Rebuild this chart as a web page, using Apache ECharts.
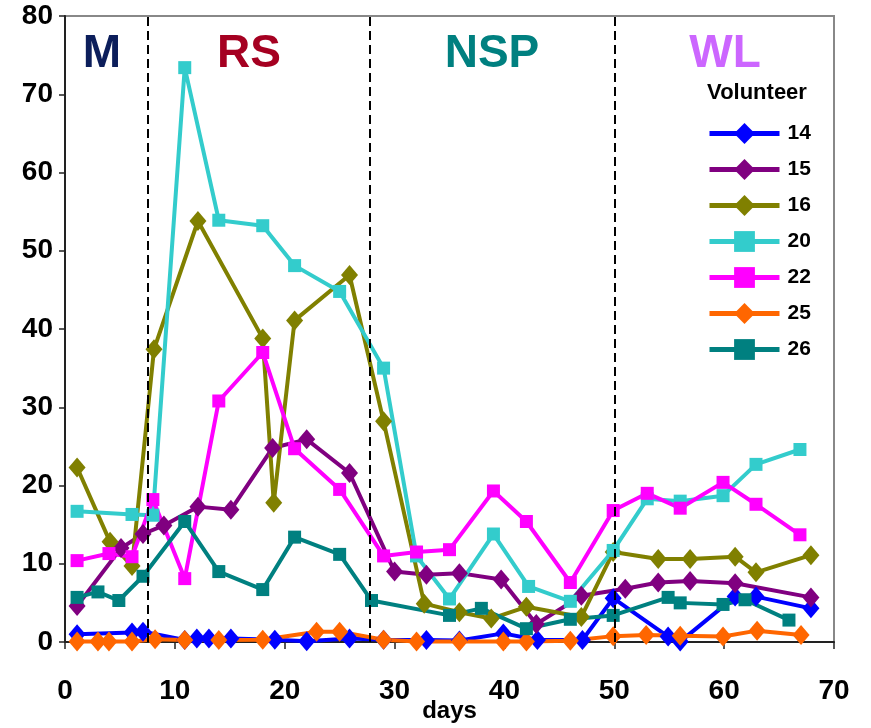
<!DOCTYPE html>
<html>
<head>
<meta charset="utf-8">
<script src="https://cdn.jsdelivr.net/npm/echarts@6/dist/echarts.min.js"></script>
<style>
  html, body { margin: 0; padding: 0; background: #fff; }
  #chart { width: 871px; height: 728px; }
</style>
</head>
<body>
<div id="chart"></div>
<script>
// Volunteer readings over the study days, one pair of arrays per volunteer
const days14 = [1.1, 6.1, 7.1, 10.9, 12.0, 13.1, 15.1, 19.1, 22.0, 25.9, 29.0, 32.9, 35.9, 39.9, 43.0, 47.1, 49.9, 54.9, 56.0, 61.0, 62.9, 67.9];
const vals14 = [1.0, 1.2, 1.3, 0.25, 0.45, 0.45, 0.45, 0.3, 0.1, 0.45, 0.3, 0.25, 0.2, 1.1, 0.25, 0.25, 5.6, 0.7, 0.05, 5.8, 5.8, 4.3];

const days15 = [1.1, 5.1, 7.1, 9.0, 12.1, 15.1, 18.9, 22.0, 25.9, 30.0, 32.9, 35.9, 39.7, 42.9, 47.0, 51.0, 54.0, 56.9, 61.0, 67.9];
const vals15 = [4.6, 12.0, 13.8, 14.9, 17.3, 16.9, 24.8, 25.9, 21.6, 9.0, 8.6, 8.8, 8.0, 2.3, 5.9, 6.8, 7.6, 7.8, 7.5, 5.7];

const days16 = [1.1, 4.1, 6.1, 8.1, 12.1, 18.0, 19.0, 20.9, 25.9, 29.0, 32.7, 35.9, 38.8, 42.0, 47.0, 49.9, 54.0, 56.9, 61.0, 62.9, 67.9];
const vals16 = [22.3, 12.8, 9.7, 37.4, 53.8, 38.8, 17.8, 41.1, 46.9, 28.2, 4.9, 3.8, 3.0, 4.5, 3.2, 11.5, 10.6, 10.6, 10.9, 8.9, 11.1];

const days20 = [1.1, 6.1, 8.0, 10.9, 14.0, 18.0, 20.9, 25.0, 29.0, 32.0, 35.0, 39.0, 42.2, 46.0, 49.9, 53.0, 56.0, 59.9, 62.9, 66.9];
const vals20 = [16.7, 16.3, 16.2, 73.4, 53.9, 53.2, 48.1, 44.8, 35.0, 11.0, 5.5, 13.8, 7.1, 5.2, 11.7, 18.3, 18.0, 18.7, 22.7, 24.6];

const days22 = [1.1, 4.0, 6.1, 8.0, 10.9, 14.0, 18.0, 20.9, 25.0, 29.0, 32.0, 35.0, 39.0, 42.0, 46.0, 49.9, 53.0, 56.0, 59.9, 62.9, 66.9];
const vals22 = [10.4, 11.3, 10.9, 18.2, 8.1, 30.8, 37.0, 24.7, 19.5, 11.0, 11.5, 11.8, 19.3, 15.4, 7.6, 16.8, 19.0, 17.1, 20.4, 17.6, 13.7];

const days25 = [1.1, 3.0, 4.0, 6.1, 8.2, 10.9, 14.0, 18.0, 22.9, 25.0, 29.0, 32.0, 35.9, 39.9, 42.0, 46.0, 49.9, 52.9, 56.0, 59.9, 63.0, 67.0];
const vals25 = [0.05, 0.05, 0.05, 0.05, 0.35, 0.25, 0.25, 0.3, 1.3, 1.3, 0.3, 0.05, 0.05, 0.05, 0.05, 0.15, 0.75, 0.9, 0.8, 0.7, 1.45, 0.9];

const days26 = [1.1, 3.0, 4.9, 7.1, 10.9, 14.0, 18.0, 20.9, 25.0, 27.9, 35.0, 37.9, 42.0, 46.0, 49.9, 54.9, 56.0, 59.9, 61.9, 65.9];
const vals26 = [5.7, 6.4, 5.3, 8.4, 15.4, 9.0, 6.7, 13.4, 11.2, 5.3, 3.4, 4.3, 1.7, 2.9, 3.4, 5.7, 5.0, 4.8, 5.4, 2.8];

// Phase boundaries (days) and phase names
const phaseBounds = [7.5, 27.7, 50];
const phaseNames = ['M', 'RS', 'NSP', 'WL'];

const xTicks = { min: 0, max: 70, step: 10 };
const yTicks = { min: 0, max: 80, step: 10 };

const FONT = '"Liberation Sans", Arial, sans-serif';

const volunteers = [
  { name: '14', days: days14, vals: vals14, color: '#0000ff', symbol: 'diamond' },
  { name: '15', days: days15, vals: vals15, color: '#800080', symbol: 'diamond' },
  { name: '16', days: days16, vals: vals16, color: '#808000', symbol: 'diamond' },
  { name: '20', days: days20, vals: vals20, color: '#33cccc', symbol: 'rect' },
  { name: '22', days: days22, vals: vals22, color: '#ff00ff', symbol: 'rect' },
  { name: '25', days: days25, vals: vals25, color: '#ff6600', symbol: 'diamond' },
  { name: '26', days: days26, vals: vals26, color: '#008080', symbol: 'rect' }
];

const series = volunteers.map(v => ({
  name: v.name,
  type: 'line',
  data: v.days.map((d, i) => [d, v.vals[i]]),
  symbol: v.symbol,
  symbolSize: v.symbol === 'diamond' ? [17, 20] : 13,
  showAllSymbol: true,
  lineStyle: { color: v.color, width: 4 },
  itemStyle: { color: v.color, borderWidth: 0 },
  emphasis: { disabled: true },
  animation: false
}));

// Dashed phase separators
series.push({
  type: 'line',
  data: [],
  silent: true,
  animation: false,
  markLine: {
    silent: true,
    symbol: ['none', 'none'],
    label: { show: false },
    lineStyle: { color: '#000', width: 2, type: [9, 5] },
    data: phaseBounds.map(b => ({ xAxis: b }))
  }
});

const phaseLabelStyle = [
  { x: 102, color: '#0c1e5b' },
  { x: 249, color: '#a50021' },
  { x: 492, color: '#008080' },
  { x: 725, color: '#cc66ff' }
];

const chart = echarts.init(document.getElementById('chart'), null, { renderer: 'canvas' });
chart.setOption({
  animation: false,
  backgroundColor: '#fff',
  textStyle: { fontFamily: FONT },
  grid: {
    left: 65, right: 37, top: 16, bottom: 86,
    outerBoundsMode: 'none',
    containLabel: false,
    show: true, borderColor: '#888', borderWidth: 2, backgroundColor: 'transparent'
  },
  xAxis: {
    type: 'value',
    min: xTicks.min, max: xTicks.max, interval: xTicks.step,
    name: 'days',
    nameLocation: 'middle',
    nameGap: 57,
    nameMoveOverlap: false,
    nameTextStyle: { fontFamily: FONT, fontWeight: 'bold', fontSize: 24, color: '#000' },
    axisLine: { show: true, onZero: false, lineStyle: { color: '#222', width: 2 } },
    axisTick: { show: true, inside: false, length: 7, lineStyle: { color: '#222', width: 1.5 } },
    axisLabel: { margin: 35, fontFamily: FONT, fontWeight: 'bold', fontSize: 28, color: '#000' },
    splitLine: { show: false }
  },
  yAxis: {
    type: 'value',
    min: yTicks.min, max: yTicks.max, interval: yTicks.step,
    axisLine: { show: true, onZero: false, lineStyle: { color: '#222', width: 2 } },
    axisTick: { show: true, inside: false, length: 6, lineStyle: { color: '#222', width: 1.5 } },
    axisLabel: { margin: 12, fontFamily: FONT, fontWeight: 'bold', fontSize: 28, color: '#000' },
    splitLine: { show: false }
  },
  legend: {
    orient: 'vertical',
    left: 707,
    top: 123,
    padding: 0,
    itemWidth: 70,
    itemHeight: 26,
    itemGap: 15,
    selectedMode: false,
    lineStyle: { width: 5 },
    textStyle: { fontFamily: FONT, fontWeight: 'bold', fontSize: 21, color: '#000', padding: [0, 0, 0, 3] },
    data: volunteers.map(v => v.name)
  },
  graphic: [
    ...phaseNames.map((t, i) => ({
      type: 'text',
      silent: true,
      style: {
        text: t,
        x: phaseLabelStyle[i].x,
        y: 54,
        align: 'center',
        verticalAlign: 'middle',
        font: 'bold 46px ' + FONT,
        fill: phaseLabelStyle[i].color
      }
    })),
    {
      type: 'text',
      silent: true,
      style: {
        text: 'Volunteer',
        x: 757,
        y: 93,
        align: 'center',
        verticalAlign: 'middle',
        font: 'bold 22px ' + FONT,
        fill: '#000'
      }
    }
  ],
  series: series
});
</script>
</body>
</html>
